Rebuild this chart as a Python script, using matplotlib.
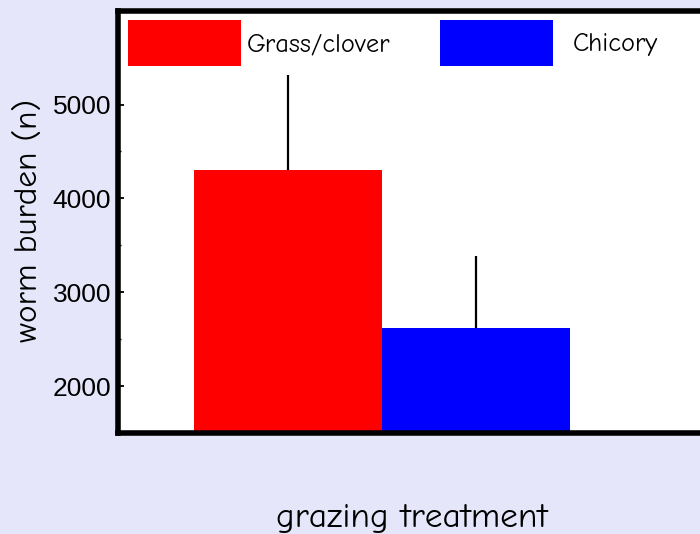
import matplotlib
matplotlib.use("Agg")
import matplotlib.pyplot as plt
from matplotlib.ticker import FixedLocator

categories = ["Grass/clover", "Chicory"]
means = [4300, 2620]
errors = [1010, 765]
colors = ["#ff0000", "#0000ff"]
major_ticks = [2000, 3000, 4000, 5000]
minor_ticks = [2500, 3500, 4500]

comic = ["Comic Neue", "Comic Sans MS", "DejaVu Sans"]

fig = plt.figure(figsize=(7.0, 5.34), dpi=100, facecolor="#e6e6fa")
ax = fig.add_axes([0.169, 0.189, 0.860, 0.791])
ax.set_facecolor("white")

x = list(range(len(categories)))
bars = []
for xi, m, e, c, lab in zip(x, means, errors, colors, categories):
    b = ax.bar(xi, m, width=1.0, color=c, label=lab, zorder=2)
    bars.append(b)
    ax.errorbar(xi, m, yerr=[[0], [e]], fmt="none", ecolor="black",
                elinewidth=1.6, capsize=0, zorder=3)

ax.set_ylim(1500, 6000)
ax.set_xlim(-0.903, 2.303)
ax.set_xticks([])
ax.yaxis.set_major_locator(FixedLocator(major_ticks))
ax.yaxis.set_minor_locator(FixedLocator(minor_ticks))
ax.tick_params(axis="y", which="major", direction="in", length=4, width=1.3,
               pad=5, labelsize=19, labelfontfamily="Liberation Sans")
ax.tick_params(axis="y", which="minor", direction="in", length=2.5, width=1.0)

for s in ax.spines.values():
    s.set_linewidth(4)
ax.spines["right"].set_visible(False)

ax.set_ylabel("worm burden (n)", fontsize=24, family=comic)
ax.yaxis.set_label_coords(-0.150, 0.504)
ax.yaxis.label.set_verticalalignment("center")
ax.set_xlabel("grazing treatment", fontsize=25.5, family=comic)
ax.xaxis.set_label_coords(0.488, -0.203)
ax.xaxis.label.set_verticalalignment("center")

fs = 19
px = fs * 100 / 72
hh = (46 / px - 0.245) / 0.65
legend_x = [128, 440]
legend_pad = [6, 20]
legs = []
for b, lab, lx, pad in zip(bars, categories, legend_x, legend_pad):
    leg = ax.legend([b], [lab], loc="upper left",
                    bbox_to_anchor=(lx / 700, 1 - 20 / 534),
                    bbox_transform=fig.transFigure, frameon=False,
                    borderpad=0, borderaxespad=0, handlelength=113 / px,
                    handleheight=hh, handletextpad=pad / px,
                    prop={"family": comic, "size": fs})
    legs.append(leg)
for leg in legs[:-1]:
    ax.add_artist(leg)

fig.savefig("out.png", dpi=100, facecolor=fig.get_facecolor())
